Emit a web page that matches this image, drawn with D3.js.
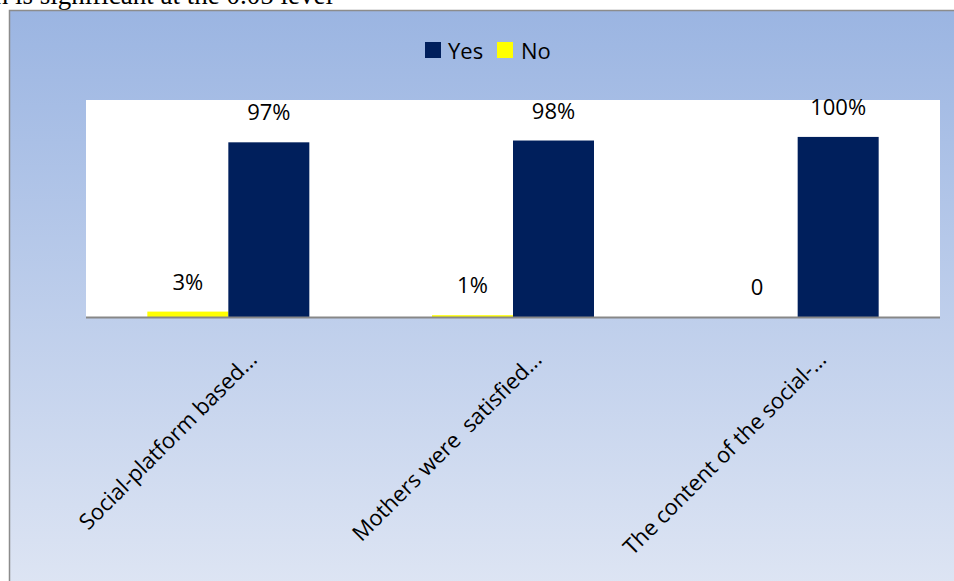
<!DOCTYPE html>
<html>
<head>
<meta charset="utf-8">
<script src="https://cdn.jsdelivr.net/npm/d3@7"></script>
<style>
  body { margin: 0; background: #ffffff; overflow: hidden; }
  svg { display: block; }
</style>
</head>
<body>
<svg id="chart"></svg>
<script>
// data
const categories = ["Social-platform based...", "Mothers were  satisfied...", "The content of the social-..."];
const seriesNames = ["No", "Yes"];
const noValues = [3, 1, 0];
const yesValues = [97, 98, 100];
const noLabels = ["3%", "1%", "0"];
const yesLabels = ["97%", "98%", "100%"];
const colors = { Yes: "#001f5c", No: "#ffff00" };

const width = 954, height = 581;
const plot = { left: 86, right: 940, top: 100, bottom: 317 };

const svg = d3.select("#chart")
    .attr("width", width)
    .attr("height", height);

// background gradient
const defs = svg.append("defs");
const grad = defs.append("linearGradient")
    .attr("id", "bg")
    .attr("x1", 0).attr("y1", 0).attr("x2", 0).attr("y2", 1);
grad.append("stop").attr("offset", "0%").attr("stop-color", "#9bb5e2");
grad.append("stop").attr("offset", "100%").attr("stop-color", "#dfe6f4");

// footnote text above chart (cropped at top, as in the source page)
svg.append("text")
    .attr("x", 333)
    .attr("y", 4)
    .attr("text-anchor", "end")
    .attr("font-family", "Liberation Serif, Times New Roman, serif")
    .attr("font-size", 27)
    .attr("fill", "#000")
    .text("*. Correlation is significant at the 0.05 level");

// chart frame
svg.append("rect")
    .attr("x", 9.5)
    .attr("y", 10.5)
    .attr("width", width + 10)
    .attr("height", height + 10)
    .attr("fill", "url(#bg)")
    .attr("stroke", "#8c8c8c")
    .attr("stroke-width", 1.5);

// plot area
svg.append("rect")
    .attr("x", plot.left)
    .attr("y", plot.top)
    .attr("width", plot.right - plot.left)
    .attr("height", plot.bottom - plot.top)
    .attr("fill", "#ffffff");

// scales
const x = d3.scaleBand()
    .domain(categories)
    .range([plot.left, plot.right])
    .paddingInner(0)
    .paddingOuter(0);

const xSub = d3.scaleBand()
    .domain(seriesNames)
    .range([x.bandwidth() / 2 - 81, x.bandwidth() / 2 + 81]);

const y = d3.scaleLinear()
    .domain([0, 120.5])
    .range([plot.bottom, plot.top]);

const rows = categories.map((c, i) => ({
    cat: c,
    vals: [
        { key: "No", value: noValues[i], label: noLabels[i] },
        { key: "Yes", value: yesValues[i], label: yesLabels[i] }
    ]
}));

const groups = svg.selectAll(".group")
    .data(rows)
    .enter()
    .append("g")
    .attr("class", "group")
    .attr("transform", d => `translate(${x(d.cat)},0)`);

// bars
groups.selectAll("rect")
    .data(d => d.vals)
    .enter()
    .append("rect")
    .attr("x", d => xSub(d.key))
    .attr("width", xSub.bandwidth())
    .attr("y", d => y(d.value))
    .attr("height", d => y(0) - y(d.value))
    .attr("fill", d => colors[d.key]);

// value labels
groups.selectAll("text.val")
    .data(d => d.vals)
    .enter()
    .append("text")
    .attr("class", "val")
    .attr("x", d => xSub(d.key) + xSub.bandwidth() / 2)
    .attr("y", d => y(d.value) - 22)
    .attr("text-anchor", "middle")
    .attr("font-family", "Open Sans, sans-serif")
    .attr("font-size", 22)
    .attr("fill", "#000")
    .text(d => d.label);

// x axis line
svg.append("line")
    .attr("x1", plot.left)
    .attr("x2", plot.right)
    .attr("y1", plot.bottom + 0.5)
    .attr("y2", plot.bottom + 0.5)
    .attr("stroke", "#878787")
    .attr("stroke-width", 2);

// category labels, rotated
svg.selectAll(".cat")
    .data(categories)
    .enter()
    .append("text")
    .attr("class", "cat")
    .attr("transform", d => `translate(${x(d) + x.bandwidth() / 2 + 30},${plot.bottom + 44}) rotate(-45)`)
    .attr("text-anchor", "end")
    .attr("font-family", "Open Sans, sans-serif")
    .attr("font-size", 22)
    .attr("fill", "#000")
    .attr("xml:space", "preserve")
    .style("white-space", "pre")
    .text(d => d);

// legend
const legend = svg.append("g")
    .attr("transform", "translate(425,42)");
const legendItems = [
    { key: "Yes", x: 0, tx: 23 },
    { key: "No", x: 72, tx: 96 }
];
legend.selectAll("rect")
    .data(legendItems)
    .enter()
    .append("rect")
    .attr("x", d => d.x)
    .attr("y", 0)
    .attr("width", 16)
    .attr("height", 16)
    .attr("fill", d => colors[d.key]);
legend.selectAll("text")
    .data(legendItems)
    .enter()
    .append("text")
    .attr("x", d => d.tx)
    .attr("y", 17)
    .attr("font-family", "Open Sans, sans-serif")
    .attr("font-size", 22)
    .attr("fill", "#000")
    .text(d => d.key);
</script>
</body>
</html>
